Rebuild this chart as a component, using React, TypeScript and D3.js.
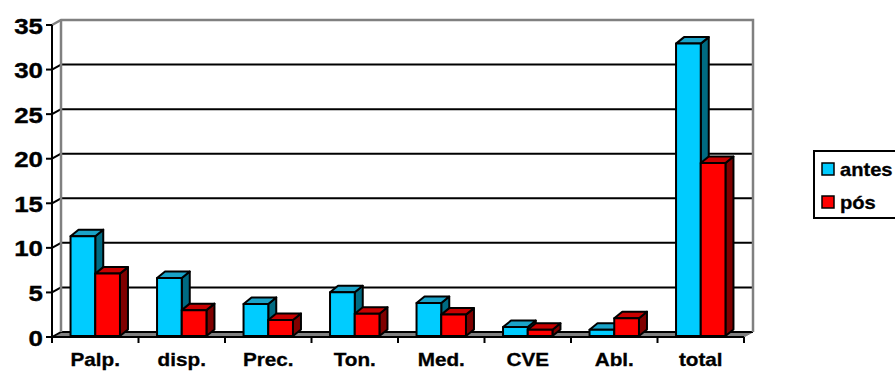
import React from "react";
import * as d3 from "d3";

const categories = ["Palp.", "disp.", "Prec.", "Ton.", "Med.", "CVE", "Abl.", "total"];
const antes = [11.2, 6.5, 3.6, 4.9, 3.7, 1.0, 0.7, 32.8];
const pos = [7.0, 2.9, 1.8, 2.5, 2.4, 0.7, 2.0, 19.4];
const yTicks = [0, 5, 10, 15, 20, 25, 30, 35];
const seriesNames = ["antes", "pós"];

const W = 895;
const H = 372;
const FONT = "'Liberation Sans', Arial, sans-serif";

// plot frame (front plane)
const X0 = 52;
const X1 = 744;
// wall depth offset
const WDX = 9;
const WDY = -5;
// bar depth offset
const BDX = 8;
const BDY = -6.5;

const palette = [
  { front: "#00CCFF", top: "#1AA3C8", side: "#006B82" },
  { front: "#FF0000", top: "#C80000", side: "#800000" },
];

export default function App() {
  const y = d3.scaleLinear().domain([0, 35]).range([337, 25]);
  const yBar = d3.scaleLinear().domain([0, 35]).range([336, 24]);
  const x = d3.scaleBand<string>().domain(categories).range([X0, X1]).paddingInner(0).paddingOuter(0);
  const bw = x.bandwidth();
  const barW = bw / 3.5;
  const inner = d3.scaleBand<number>().domain([0, 1]).range([0, barW * 2]);

  const bars: React.ReactNode[] = [];
  categories.forEach((c, i) => {
    [antes[i], pos[i]].forEach((v, s) => {
      const xl = (x(c) as number) + (bw - barW * 2) / 2 + (inner(s) as number);
      const xr = xl + barW;
      const yb = yBar(0);
      const yt = yBar(v);
      const col = palette[s];
      const top = `M${xl},${yt}L${xl + BDX},${yt + BDY}L${xr + BDX},${yt + BDY}L${xr},${yt}Z`;
      const side = `M${xr},${yt}L${xr + BDX},${yt + BDY}L${xr + BDX},${yb + BDY}L${xr},${yb}Z`;
      bars.push(
        <g key={`${c}-${s}`} stroke="#000" strokeWidth={2} strokeLinejoin="round">
          <path d={side} fill={col.side} />
          <path d={top} fill={col.top} />
          <rect x={xl} y={yt} width={barW} height={yb - yt} fill={col.front} />
        </g>
      );
    });
  });

  const stretch = (tx: number, ty: number, sx: number) => `translate(${tx},${ty}) scale(${sx},1)`;

  return (
    <svg
      width={W}
      height={H}
      style={{ position: "absolute", left: 0, top: 0, background: "#fff" }}
      fontFamily={FONT}
      fontWeight="bold"
    >
      {/* floor */}
      <path
        d={`M${X0},${y(0)}L${X1},${y(0)}L${X1 + WDX},${y(0) + WDY}L${X0 + WDX},${y(0) + WDY}Z`}
        fill="#808080"
        stroke="#808080"
        strokeWidth={1}
      />
      {/* gridlines on back wall and side wall */}
      {yTicks.map((t) =>
        t === 35 ? null : (
          <g key={`g${t}`}>
            <line x1={X0 + WDX} x2={X1 + WDX} y1={y(t) + WDY} y2={y(t) + WDY} stroke="#000" strokeWidth={2} />
            <line x1={X0} x2={X0 + WDX} y1={y(t)} y2={y(t) + WDY} stroke="#000" strokeWidth={2} />
          </g>
        )
      )}
      {/* wall edges */}
      <path
        d={`M${X0},${y(35)}L${X0 + WDX},${y(35) + WDY}L${X1 + WDX},${y(35) + WDY}L${X1 + WDX},${y(0) + WDY}`}
        fill="none"
        stroke="#808080"
        strokeWidth={2.5}
      />
      <line x1={X0 + WDX} x2={X0 + WDX} y1={y(35) + WDY} y2={y(0) + WDY} stroke="#808080" strokeWidth={2.5} />
      {/* bars */}
      {bars}
      {/* axes */}
      <line x1={X0} x2={X0} y1={y(35)} y2={y(0)} stroke="#000" strokeWidth={2} />
      <line x1={X0} x2={X1} y1={y(0)} y2={y(0)} stroke="#000" strokeWidth={2} />
      {yTicks.map((t) => (
        <g key={`yt${t}`}>
          <line x1={X0 - 6} x2={X0} y1={y(t)} y2={y(t)} stroke="#000" strokeWidth={2} />
          <text
            transform={stretch(43, y(t) + 8.5, 1.15)}
            textAnchor="end"
            fontSize={22.5}
            fill="#000"
            stroke="#000"
            strokeWidth={0.4}
          >
            {t}
          </text>
        </g>
      ))}
      {[...categories.map((c) => x(c) as number), X1].map((px, i) => (
        <line key={`xt${i}`} x1={px} x2={px} y1={y(0)} y2={y(0) + 6} stroke="#000" strokeWidth={2} />
      ))}
      {categories.map((c) => (
        <text
          key={`xl${c}`}
          transform={stretch((x(c) as number) + bw / 2, 366, 1.15)}
          textAnchor="middle"
          fontSize={18}
          fill="#000"
          stroke="#000"
          strokeWidth={0.3}
        >
          {c}
        </text>
      ))}
      {/* legend */}
      <rect x={814} y={151} width={100} height={67} fill="#fff" stroke="#000" strokeWidth={2} />
      {seriesNames.map((n, i) => (
        <g key={`lg${n}`}>
          <rect x={822} y={163 + i * 33} width={12} height={12} fill={palette[i].front} stroke="#000" strokeWidth={1.5} />
          <text
            transform={stretch(840, 175.5 + i * 33, 1.15)}
            fontSize={17.5}
            fill="#000"
            stroke="#000"
            strokeWidth={0.3}
          >
            {n}
          </text>
        </g>
      ))}
    </svg>
  );
}
